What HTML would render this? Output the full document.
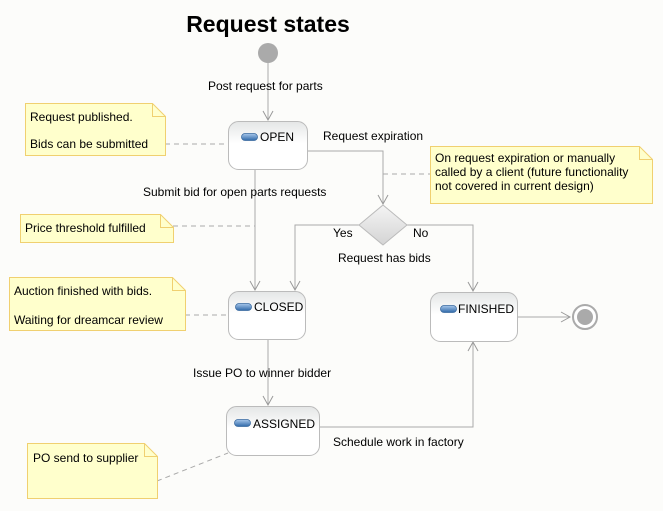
<!DOCTYPE html>
<html><head><style>
html,body{margin:0;padding:0;background:#fcfcfa;}
svg{display:block;font-family:"Liberation Sans","DejaVu Sans",sans-serif;font-size:12px;}
</style></head><body>
<svg width="663" height="511" viewBox="0 0 663 511" xmlns="http://www.w3.org/2000/svg">
<defs>
<linearGradient id="st" x1="0" y1="0" x2="0" y2="1">
<stop offset="0" stop-color="#e4e6e6"/><stop offset="0.45" stop-color="#ffffff"/><stop offset="1" stop-color="#ffffff"/>
</linearGradient>
<linearGradient id="ic" x1="0" y1="0" x2="0" y2="1">
<stop offset="0" stop-color="#a8c8ec"/><stop offset="1" stop-color="#2f68a8"/>
</linearGradient>
<linearGradient id="dm" x1="0" y1="0" x2="0" y2="1">
<stop offset="0" stop-color="#f4f4f4"/><stop offset="1" stop-color="#d4d4d4"/>
</linearGradient>
<marker id="ar" markerWidth="12" markerHeight="12" refX="10" refY="6" orient="auto" markerUnits="userSpaceOnUse">
<path d="M1,1 L10,6 L1,11" fill="none" stroke="#999" stroke-width="1"/>
</marker>
</defs>
<rect width="663" height="511" fill="#fcfcfa"/>
<text x="268" y="32" text-anchor="middle" font-size="23" font-weight="bold" fill="#000">Request states</text>

<!-- initial -->
<circle cx="268" cy="53" r="10" fill="#aaa"/>
<g stroke="#aaa" stroke-width="1" fill="none">
<line x1="268" y1="63" x2="268" y2="120" marker-end="url(#ar)"/>
<line x1="255" y1="169" x2="255" y2="290" marker-end="url(#ar)"/>
<polyline points="307,151 383,151 383,204" marker-end="url(#ar)"/>
<polyline points="359,225 295,225 295,290" marker-end="url(#ar)"/>
<polyline points="407,225 473,225 473,291" marker-end="url(#ar)"/>
<line x1="268" y1="339" x2="268" y2="405" marker-end="url(#ar)"/>
<polyline points="319,427 473,427 473,342" marker-end="url(#ar)"/>
<line x1="517" y1="317" x2="570" y2="317" marker-end="url(#ar)"/>
</g>
<g stroke="#aaa" stroke-dasharray="5,4" fill="none">
<line x1="165" y1="144" x2="228" y2="144"/>
<line x1="173" y1="226" x2="255" y2="226"/>
<line x1="383" y1="174" x2="430" y2="174"/>
<line x1="185" y1="315" x2="228" y2="315"/>
<line x1="157" y1="481" x2="228" y2="453"/>
</g>

<!-- notes -->
<g fill="#ffffcc" stroke="#f0d070">
<path d="M25.5,103.5 H152.5 L165.5,116.5 V155.5 H25.5 Z"/>
<path d="M20.5,214.5 H160.5 L173.5,227.5 V242.5 H20.5 Z"/>
<path d="M430.5,146.5 H639.5 L652.5,159.5 V203.5 H430.5 Z"/>
<path d="M9.5,277.5 H172.5 L185.5,290.5 V330.5 H9.5 Z"/>
<path d="M27.5,443.5 H144.5 L157.5,456.5 V498.5 H27.5 Z"/>
</g>
<g fill="none" stroke="#f0d070">
<path d="M152.5,103.5 V116.5 H165.5"/>
<path d="M160.5,214.5 V227.5 H173.5"/>
<path d="M639.5,146.5 V159.5 H652.5"/>
<path d="M172.5,277.5 V290.5 H185.5"/>
<path d="M144.5,443.5 V456.5 H157.5"/>
</g>
<g fill="#000">
<text x="30" y="121">Request published.</text>
<text x="30" y="148">Bids can be submitted</text>
<text x="25" y="232">Price threshold fulfilled</text>
<text x="435" y="162">On request expiration or manually</text>
<text x="435" y="176">called by a client (future functionality</text>
<text x="435" y="190">not covered in current design)</text>
<text x="14" y="295">Auction finished with bids.</text>
<text x="14" y="324">Waiting for dreamcar review</text>
<text x="33" y="462">PO send to supplier</text>
</g>

<!-- states -->
<g stroke="#bbb" fill="url(#st)">
<rect x="228.5" y="121.5" width="79" height="48" rx="10"/>
<rect x="228.5" y="291.5" width="77" height="48" rx="10"/>
<rect x="226.5" y="406.5" width="93" height="49" rx="10"/>
<rect x="430.5" y="292.5" width="87" height="49" rx="10"/>
</g>
<g fill="url(#ic)" stroke="#3a6aa0" stroke-width="0.8">
<rect x="241.5" y="133.5" width="16" height="7" rx="3.5"/>
<rect x="235.5" y="303.5" width="16" height="7" rx="3.5"/>
<rect x="234.5" y="419.5" width="16" height="7" rx="3.5"/>
<rect x="440.5" y="305.5" width="16" height="7" rx="3.5"/>
</g>
<g fill="#000">
<text x="260" y="141">OPEN</text>
<text x="254" y="311">CLOSED</text>
<text x="253" y="428">ASSIGNED</text>
<text x="458" y="313">FINISHED</text>
</g>

<!-- decision -->
<path d="M383,205 L407,225 L383,245 L359,225 Z" fill="url(#dm)" stroke="#bbb"/>

<!-- final -->
<circle cx="585" cy="317" r="12" fill="#fff" stroke="#aaa" stroke-width="2"/>
<circle cx="585" cy="317" r="8" fill="#aaa"/>

<!-- labels -->
<g fill="#000">
<text x="208" y="90">Post request for parts</text>
<text x="323" y="140">Request expiration</text>
<text x="143" y="196">Submit bid for open parts requests</text>
<text x="333" y="237">Yes</text>
<text x="413" y="237">No</text>
<text x="338" y="262">Request has bids</text>
<text x="193" y="377">Issue PO to winner bidder</text>
<text x="333" y="446">Schedule work in factory</text>
</g>
</svg>
</body></html>
